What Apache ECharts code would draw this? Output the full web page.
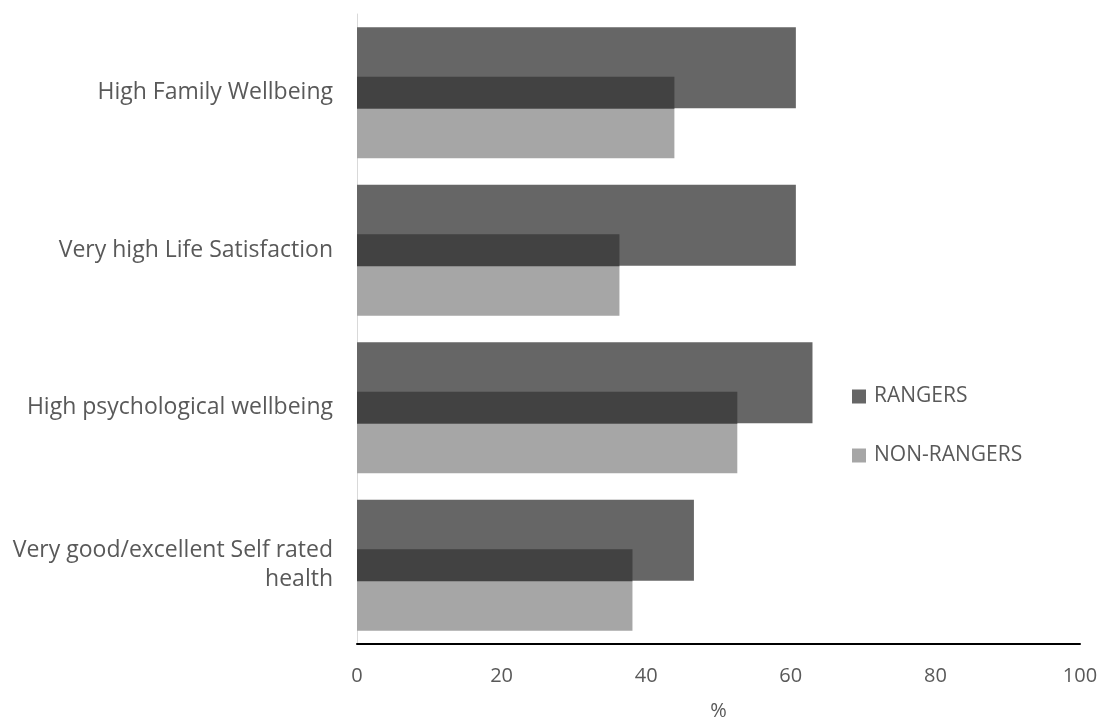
<!DOCTYPE html>
<html lang="en">
<head>
    <meta charset="UTF-8">
    <title>Rangers wellbeing</title>
    <script src="https://cdn.jsdelivr.net/npm/echarts@6/dist/echarts.min.js"></script>
    <style>
        html, body { margin: 0; padding: 0; background: #fff; }
    </style>
</head>
<body>
    <div id="main" style="width: 1102px; height: 720px;"></div>
    <script>
        // values (%)
        const categories = [
            "High Family Wellbeing",
            "Very high Life Satisfaction",
            "High psychological wellbeing",
            "Very good/excellent Self rated\nhealth"
        ];
        const rangers = [60.7, 60.7, 63.0, 46.6];
        const nonRangers = [43.9, 36.3, 52.6, 38.1];
        const xTicks = [0, 20, 40, 60, 80, 100];

        const font = "'Open Sans', sans-serif";
        const txt = "#595959";

        const chart = echarts.init(document.getElementById("main"));
        chart.setOption({
            animation: false,
            textStyle: { fontFamily: font },
            grid: {
                left: 357, right: 22, top: 14, bottom: 76,
                containLabel: false, outerBoundsMode: "none"
            },
            legend: {
                data: ["RANGERS", "NON-RANGERS"],
                orient: "vertical",
                left: 847,
                top: 381,
                icon: "rect",
                itemWidth: 14,
                itemHeight: 14,
                itemGap: 38,
                textStyle: { fontFamily: font, fontSize: 21, color: txt, padding: [0, 0, 0, 3] }
            },
            xAxis: {
                type: "value",
                min: xTicks[0],
                max: xTicks[xTicks.length - 1],
                interval: 20,
                name: "%",
                nameLocation: "middle",
                nameGap: 57,
                nameTextStyle: { fontFamily: font, fontSize: 20, color: txt },
                axisLine: { show: true, lineStyle: { color: "#000", width: 2 } },
                axisTick: { show: false },
                splitLine: { show: false },
                axisLabel: { fontFamily: font, fontSize: 20, color: txt, margin: 22 }
            },
            yAxis: [
                {
                    type: "category",
                    data: categories,
                    inverse: true,
                    axisLine: { show: true, lineStyle: { color: "#d9d9d9", width: 1 } },
                    axisTick: { show: false },
                    axisLabel: {
                        fontFamily: font, fontSize: 23, color: txt, margin: 24,
                        align: "right", lineHeight: 29, padding: [4, 0, 0, 0]
                    }
                },
                {
                    type: "category",
                    data: categories,
                    inverse: true,
                    show: false
                }
            ],
            series: [
                {
                    name: "RANGERS",
                    type: "bar",
                    yAxisIndex: 0,
                    barWidth: 81,
                    barGap: "0%",
                    itemStyle: { color: "#666666" },
                    data: rangers
                },
                {
                    name: "NON-RANGERS",
                    type: "bar",
                    yAxisIndex: 0,
                    barWidth: 50,
                    barGap: "0%",
                    itemStyle: { color: "#a6a6a6" },
                    data: nonRangers
                },
                {
                    name: "RANGERS (overlay)",
                    type: "bar",
                    yAxisIndex: 1,
                    barWidth: 32,
                    itemStyle: { color: "#424242" },
                    data: nonRangers
                }
            ]
        });
    </script>
</body>
</html>
